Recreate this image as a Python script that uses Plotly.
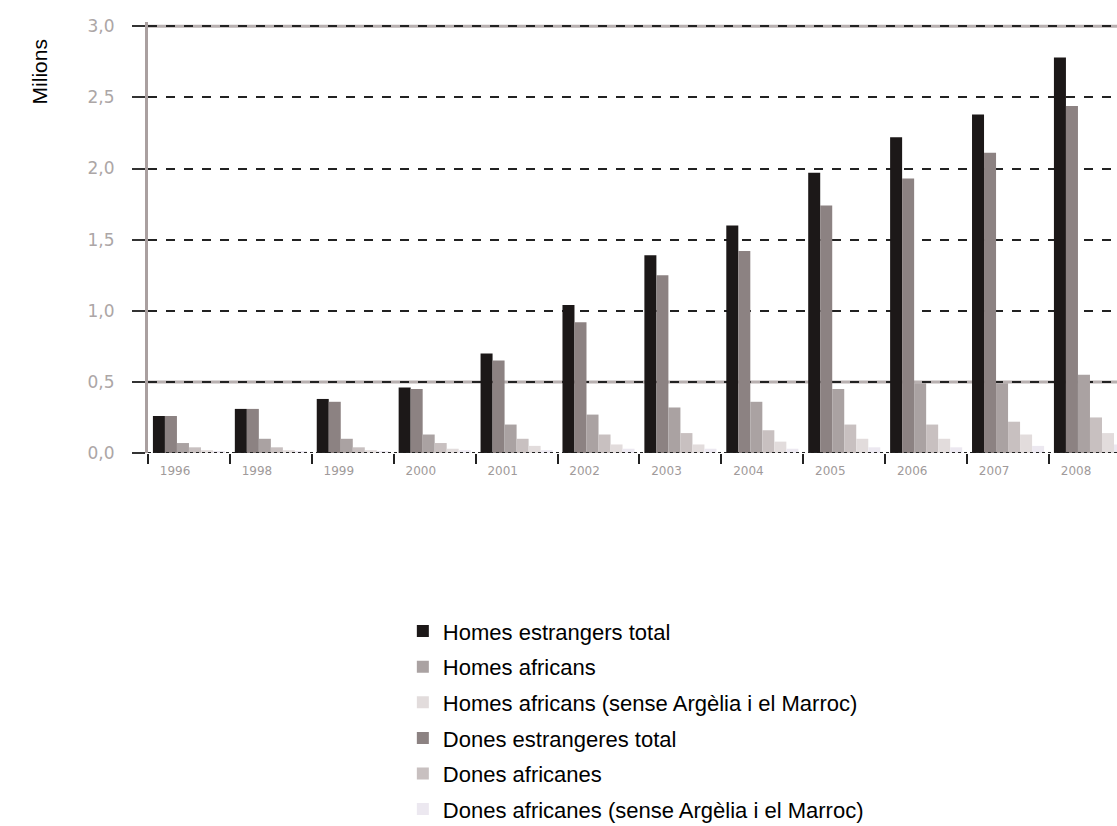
import plotly.graph_objects as go

years = ["1996", "1998", "1999", "2000", "2001", "2002", "2003", "2004", "2005", "2006", "2007", "2008"]

homes_estrangers_total = [0.26, 0.31, 0.38, 0.46, 0.70, 1.04, 1.39, 1.60, 1.97, 2.22, 2.38, 2.78]
dones_estrangeres_total = [0.26, 0.31, 0.36, 0.45, 0.65, 0.92, 1.25, 1.42, 1.74, 1.93, 2.11, 2.44]
homes_africans = [0.07, 0.10, 0.10, 0.13, 0.20, 0.27, 0.32, 0.36, 0.45, 0.49, 0.49, 0.55]
dones_africanes = [0.04, 0.04, 0.04, 0.07, 0.10, 0.13, 0.14, 0.16, 0.20, 0.20, 0.22, 0.25]
homes_africans_sense = [0.02, 0.02, 0.02, 0.03, 0.05, 0.06, 0.06, 0.08, 0.10, 0.10, 0.13, 0.14]
dones_africanes_sense = [0.01, 0.01, 0.01, 0.02, 0.02, 0.03, 0.03, 0.03, 0.04, 0.04, 0.05, 0.06]

y_ticks = [0.0, 0.5, 1.0, 1.5, 2.0, 2.5, 3.0]

series = [
    ("Homes estrangers total", homes_estrangers_total, "#1c1818", 1),
    ("Dones estrangeres total", dones_estrangeres_total, "#8c8282", 4),
    ("Homes africans", homes_africans, "#aaa2a2", 2),
    ("Dones africanes", dones_africanes, "#c8c0c0", 5),
    ("Homes africans (sense Argèlia i el Marroc)", homes_africans_sense, "#e2dcdc", 3),
    ("Dones africanes (sense Argèlia i el Marroc)", dones_africanes_sense, "#ece8f0", 6),
]

xpos = list(range(len(years)))

fig = go.Figure()
for name, vals, color, rank in series:
    fig.add_trace(go.Bar(
        x=xpos, y=vals, name=name, legendrank=rank, legendgroup=name,
        marker=dict(color=color, line=dict(width=0)),
    ))

fig.update_layout(
    width=1117, height=826,
    barmode="group", bargap=0.12, bargroupgap=0,
    plot_bgcolor="white", paper_bgcolor="white",
    margin=dict(l=148, r=0, t=22, b=373, autoexpand=False),
    separators=",.",
    showlegend=True,
    legend=dict(
        x=0.263, y=-0.365, xanchor="left", yanchor="top",
        font=dict(family="Liberation Sans", size=22, color="black"),
        traceorder="grouped", itemwidth=30, tracegroupgap=4,
    ),
    xaxis=dict(
        range=[-0.5, 11.33], automargin=False,
        tickmode="array", tickvals=[i - 0.17 for i in xpos], ticktext=years,
        ticks="", showgrid=False, zeroline=False,
        showline=False, ticklabelstandoff=9,
        tickfont=dict(family="DejaVu Sans", size=12, color="#a09a9a"),
        minor=dict(tickmode="linear", tick0=-0.5, dtick=1, ticks="outside",
                   ticklen=10, tickcolor="#222", tickwidth=2, showgrid=False),
    ),
    yaxis=dict(
        range=[0, 3.03], automargin=False,
        tickmode="array", tickvals=y_ticks, tickformat=".1f",
        ticks="outside", ticklen=13, tickcolor="#333", tickwidth=2,
        ticklabelstandoff=14,
        showgrid=True, gridcolor="#222", griddash="dash", gridwidth=2,
        zeroline=False,
        showline=True, linecolor="#aaa0a0", linewidth=3,
        tickfont=dict(family="DejaVu Sans", size=17, color="#aca6a6"),
    ),
)

# grey lines at 0.5 and 3.0, dotted baseline at 0
for yv, col, dash in [(0.5, "#b8b0b0", "solid"), (3.0, "#b8b0b0", "solid"), (0.0, "#222", "dot")]:
    fig.add_shape(type="line", xref="paper", x0=0, x1=1, yref="y", y0=yv, y1=yv,
                  line=dict(color=col, width=3 if yv else 2, dash=dash), layer="above" if yv == 0 else "below")

fig.add_annotation(
    text="Milions", xref="paper", yref="paper", x=-0.111, y=0.884,
    xanchor="center", yanchor="middle",
    textangle=-90, showarrow=False,
    font=dict(family="Liberation Sans", size=21, color="black"),
)

fig.write_html("out.html", config={"displayModeBar": False},
               post_script="document.body.style.margin='0px';document.body.style.overflow='hidden';")
